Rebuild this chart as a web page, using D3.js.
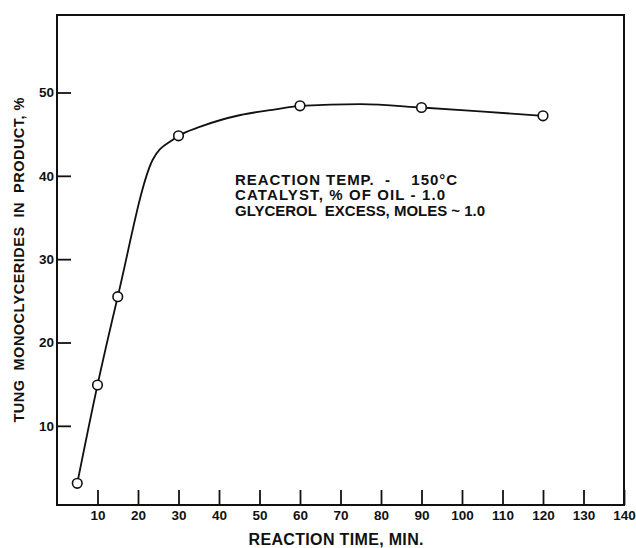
<!DOCTYPE html>
<html>
<head>
<meta charset="utf-8">
<script src="https://cdn.jsdelivr.net/npm/d3@7"></script>
<style>
  body { margin: 0; background: #fff; }
  svg text { font-family: "Liberation Sans", Arial, sans-serif; font-weight: bold; fill: #111; }
</style>
</head>
<body>
<svg id="chart" width="636" height="548"></svg>
<script>
// measured points (circles)
var timeMin = [5, 10, 15, 30, 60, 90, 120];
var monoPct = [3.1, 14.9, 25.5, 44.8, 48.4, 48.2, 47.2];

// the drawn curve
var curveTime = [5, 10, 15, 23.6, 28.5, 30, 35.4, 45.3, 54.4, 60, 75, 90, 105.3, 120];
var curvePct  = [3.1, 14.9, 25.5, 41.9, 44.3, 44.8, 45.9, 47.3, 48.0, 48.4, 48.6, 48.2, 47.7, 47.2];

var xTicks = [10, 20, 30, 40, 50, 60, 70, 80, 90, 100, 110, 120, 130, 140];
var yTicks = [10, 20, 30, 40, 50];

var notes = ["REACTION TEMP.  -    150\u00b0C", "CATALYST, % OF OIL - 1.0", "GLYCEROL  EXCESS, MOLES ~ 1.0"];
var noteWidths = [222, 210, 250];

var margin = {left: 57, top: 15, right: 12, bottom: 43},
    W = 636 - margin.left - margin.right,
    H = 548 - margin.top - margin.bottom;

var svg = d3.select("#chart"),
g = svg.append("g").attr("transform", "translate(" + margin.left + "," + margin.top + ")");

var x = d3.scaleLinear().domain([0, 140]).range([0, W]);
var y = d3.scaleLinear().domain([0.5, 59.3]).range([H, 0]);

// frame
g.append("rect")
	.attr("x", x(0)).attr("y", y(59.3))
	.attr("width", x(140) - x(0)).attr("height", y(0.5) - y(59.3))
	.style("fill", "none").style("stroke", "#111").style("stroke-width", 2);

var xAxis = g.append("g")
	.attr("transform", "translate(0," + H + ")")
	.call(d3.axisBottom(x).tickValues(xTicks).tickSizeInner(-15).tickSizeOuter(0).tickPadding(5));

var yAxis = g.append("g")
	.call(d3.axisLeft(y).tickValues(yTicks).tickSizeInner(-14).tickSizeOuter(0).tickPadding(3));

[xAxis, yAxis].forEach(function(a){
	a.select(".domain").remove();
	a.selectAll("line").style("stroke", "#111").style("stroke-width", 1.8);
	a.selectAll("text").style("font-size", "13.5px").style("font-family", "Liberation Sans, Arial, sans-serif")
		.style("font-weight", "bold").style("fill", "#111");
});

// curve
var line = d3.line()
	.x(function(d){ return x(d[0]); })
	.y(function(d){ return y(d[1]); })
	.curve(d3.curveMonotoneX);

g.append("path")
	.datum(d3.zip(curveTime, curvePct))
	.attr("d", line)
	.style("fill", "none").style("stroke", "#111").style("stroke-width", 1.8);

g.selectAll("circle")
	.data(d3.zip(timeMin, monoPct))
	.enter().append("circle")
	.attr("cx", function(d){ return x(d[0]); })
	.attr("cy", function(d){ return y(d[1]); })
	.attr("r", 4.8)
	.style("fill", "#fff").style("stroke", "#111").style("stroke-width", 1.6);

// notes
g.selectAll(".note")
	.data(notes)
	.enter().append("text")
	.attr("class", "note")
	.attr("x", 178)
	.attr("y", function(d, i){ return 169.5 + i * 15.5; })
	.attr("textLength", function(d, i){ return noteWidths[i]; })
	.attr("lengthAdjust", "spacing")
	.style("font-size", "15px")
	.style("white-space", "pre")
	.text(function(d){ return d; });

// axis titles
svg.append("text")
	.attr("x", 336).attr("y", 545)
	.attr("text-anchor", "middle")
	.attr("textLength", 175).attr("lengthAdjust", "spacing")
	.style("font-size", "16px")
	.text("REACTION TIME, MIN.");

svg.append("text")
	.attr("transform", "translate(24,260) rotate(-90)")
	.attr("text-anchor", "middle")
	.attr("textLength", 325).attr("lengthAdjust", "spacing")
	.style("font-size", "14.5px")
	.style("white-space", "pre")
	.text("TUNG  MONOCLYCERIDES  IN  PRODUCT, %");
</script>
</body>
</html>
